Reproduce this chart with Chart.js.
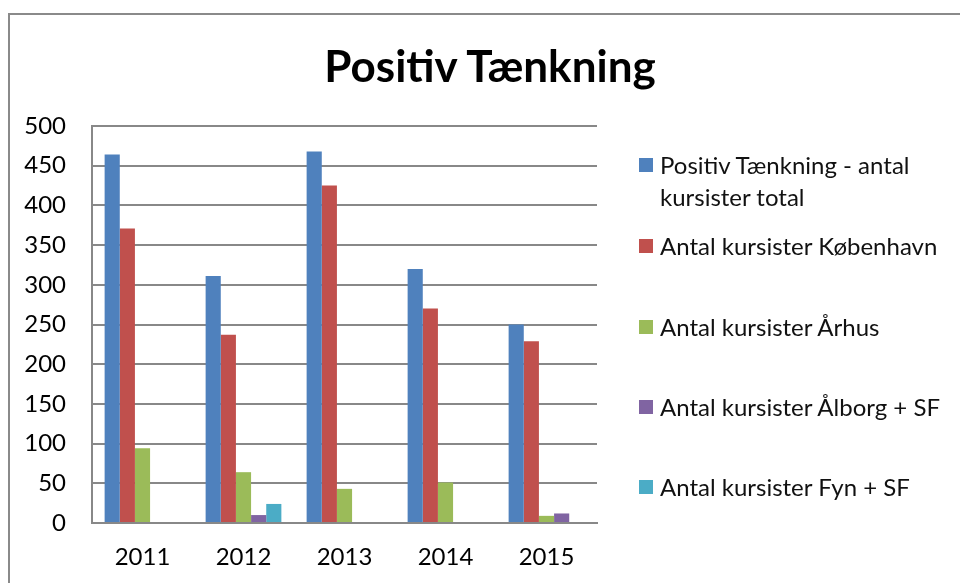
<!DOCTYPE html>
<html>
<head>
<meta charset="utf-8">
<script src="https://cdn.jsdelivr.net/npm/chart.js@4.4.1/dist/chart.umd.min.js"></script>
<style>
  html, body { margin: 0; padding: 0; background: #fff; }
  #wrap { position: relative; width: 960px; height: 583px; overflow: hidden; }
  #frame { position: absolute; left: 8px; top: 13px; width: 1000px; height: 1000px; border: 2px solid #8a8a8a; }
  #myChart { position: absolute; left: 0; top: 0; }
  #title { position: absolute; left: 290px; width: 400px; top: 38px; text-align: center; font-family: Lato, sans-serif; font-weight: bold; font-size: 44px; line-height: 54px; color: #000; }
  #legend { position: absolute; left: 639px; top: 0; font-family: Lato, sans-serif; font-size: 24px; color: #111; }
  .item { position: absolute; left: 0; width: 320px; }
  .box { position: absolute; left: 0; width: 14px; height: 14px; }
  .txt { position: absolute; left: 21px; width: 290px; line-height: 32px; }
</style>
</head>
<body>
<div id="wrap">
  <div id="frame"></div>
  <canvas id="myChart" width="960" height="583"></canvas>
  <div id="title">Positiv Tænkning</div>
  <div id="legend"></div>
</div>
<script>
'use strict';
const years = ['2011', '2012', '2013', '2014', '2015'];
const seriesNames = ['Positiv Tænkning - antal kursister total', 'Antal kursister København', 'Antal kursister Århus', 'Antal kursister Ålborg + SF', 'Antal kursister Fyn + SF'];
const total = [464, 311, 468, 320, 250];
const kobenhavn = [371, 237, 425, 270, 229];
const arhus = [94, 64, 43, 51, 9];
const alborg = [0, 10, 0, 0, 12];
const fyn = [0, 24, 0, 0, 0];
const colors = ['#4F81BD', '#C0504D', '#9BBB59', '#8064A2', '#4BACC6'];
const yTicks = [0, 50, 100, 150, 200, 250, 300, 350, 400, 450, 500];

const allData = [total, kobenhavn, arhus, alborg, fyn];
let datasets = [];
for (let i = 0; i < allData.length; i++) {
  datasets.push({
    label: seriesNames[i],
    data: allData[i],
    backgroundColor: colors[i],
    borderWidth: 0,
    categoryPercentage: 0.75,
    barPercentage: 1.0
  });
}

// legend on the right, drawn as html
const legendEl = document.getElementById('legend');
const legendTops = [149, 230, 311, 391, 471];
for (let i = 0; i < seriesNames.length; i++) {
  let item = document.createElement('div');
  item.className = 'item';
  item.style.top = legendTops[i] + 'px';
  item.innerHTML = '<div class="box" style="top:9px;background:' + colors[i] + '"></div><div class="txt" style="top:0">' + seriesNames[i] + '</div>';
  legendEl.appendChild(item);
}

const ctx = document.getElementById('myChart').getContext('2d');
new Chart(ctx, {
  type: 'bar',
  data: { labels: years, datasets: datasets },
  options: {
    responsive: false,
    animation: false,
    layout: { padding: { left: 0, right: 363, top: 126, bottom: 0 } },
    plugins: {
      legend: { display: false },
      tooltip: { enabled: false },
      title: { display: false }
    },
    scales: {
      x: {
        afterFit: function (scale) { scale.height = 60; },
        grid: { display: false, drawTicks: false },
        border: { color: '#888', width: 2 },
        ticks: { color: '#000', font: { family: 'Lato', size: 24 }, padding: 20 }
      },
      y: {
        min: 0,
        max: 500,
        afterFit: function (scale) { scale.width = 92; },
        afterBuildTicks: function (scale) { scale.ticks = yTicks.map(function (v) { return { value: v }; }); },
        grid: { color: '#888', lineWidth: 2, tickLength: 0 },
        border: { color: '#888', width: 2 },
        ticks: { color: '#000', font: { family: 'Lato', size: 24 }, padding: 26 }
      }
    }
  }
});
</script>
</body>
</html>
